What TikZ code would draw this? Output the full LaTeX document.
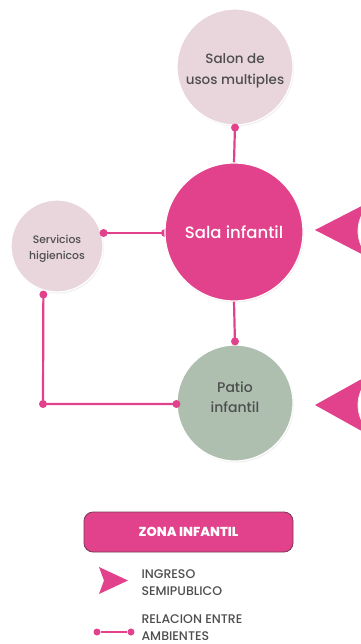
\documentclass[tikz,border=0pt]{standalone}
\usepackage{fontspec}
\setmainfont{Poppins Medium}
\usetikzlibrary{shadows}
\definecolor{pk}{HTML}{E2418B}
\definecolor{lpk}{HTML}{E9D6DC}
\definecolor{sage}{HTML}{AEBFB0}
\definecolor{txt}{HTML}{4E4E4E}
\definecolor{boxline}{HTML}{7A3A55}
\tikzset{
  room/.style={circle, draw=white, line width=1.2pt, inner sep=0pt, align=center,
    drop shadow={opacity=0.12, shadow xshift=1pt, shadow yshift=-1.5pt}},
  link/.style={draw=pk, line width=2.2pt},
  dotk/.style={circle, fill=pk, inner sep=0pt, minimum size=8pt},
  entry/.style={fill=pk},
  label/.style={text=txt, align=center, inner sep=0pt},
}
\begin{document}
\begin{tikzpicture}[x=1pt,y=-1pt]
\useasboundingbox[fill=white] (0,0) rectangle (360,644);
\coordinate (csalon) at (235,67);
\coordinate (csala) at (234,232);
\coordinate (cserv) at (57,246);
\coordinate (cpatio) at (235,403);
\coordinate (corner) at (43,404);
% entry arrows (behind)
\coordinate (tip1) at (315,230);
\coordinate (tip2) at (315,405);
\fill[entry] (tip1) -- ++(70,-36) -- ++(0,72) -- cycle;
\fill[entry] (tip2) -- ++(70,-39) -- ++(0,78) -- cycle;
\node[circle, fill=white, draw=white!85!gray, line width=0.8pt, minimum size=70pt] (next1) at (393,231) {};
\node[circle, fill=white, draw=white!85!gray, line width=0.8pt, minimum size=70pt] (next2) at (393,405) {};
% nodes
\node[room, fill=lpk, minimum size=116pt] (salon) at (csalon) {};
\node[label, font=\fontsize{13.5}{21}\selectfont] (salontext) at ([yshift=-4pt]salon.center) {Salon de\\usos multiples};
\node[room, fill=sage, minimum size=116pt] (patio) at (cpatio) {};
\node[label, font=\fontsize{14}{20}\selectfont] (patiotext) at ([yshift=6pt]patio.center) {Patio\\infantil};
\node[room, fill=lpk, minimum size=92pt] (serv) at (cserv) {};
\node[label, font=\fontsize{10.8}{16}\selectfont] (servtext) at ([yshift=-3pt]serv.center) {Servicios\\higienicos};
% connectors behind sala
\coordinate (servE) at ([yshift=13pt]serv.east);
\draw[link] (servE) -- (servE -| csala);
\node[dotk] at (servE) {};
\node[dotk] (halfdot) at (165,233) {};
\node[room, fill=pk, minimum size=138pt, text=white, font=\fontsize{16.5}{20}\selectfont] (sala) at (csala) {Sala infantil};
% connectors
\draw[link] (salon.south) -- (sala.north);
\node[dotk] at ([yshift=-2pt]salon.south) {};
\draw[link] (sala.south) -- (patio.north);
\node[dotk] at ([yshift=3pt]patio.north) {};
\coordinate (servS) at ([yshift=-4pt]serv.253);
\draw[link] (servS) -- (corner) -- (patio.west |- corner);
\node[dotk] at (servS) {};
\node[dotk] at (corner) {};
\node[dotk] at (patio.west |- corner) {};
% legend
\node[draw=boxline, line width=0.8pt, fill=pk, rounded corners=9pt, minimum width=209pt, minimum height=40pt,
  text=white, font=\bfseries\fontsize{13}{15}\selectfont] (zona) at (188.5,532) {ZONA INFANTIL};
\fill[entry] (99,567) -- (128,580.5) -- (99,594) -- (104,580.5) -- cycle;
\node[anchor=west, text=txt, align=left, font=\fontsize{12.5}{17}\selectfont] (ingreso) at (138,583) {INGRESO\\SEMIPUBLICO};
\node[dotk, minimum size=7pt] (la) at (97,632) {};
\node[dotk, minimum size=7pt] (lb) at (131,632) {};
\draw[draw=pk, line width=1.8pt] (la) -- (lb);
\node[anchor=west, text=txt, align=left, font=\fontsize{12.5}{17}\selectfont] (relacion) at (138,628) {RELACION ENTRE\\AMBIENTES};
\end{tikzpicture}
\end{document}
